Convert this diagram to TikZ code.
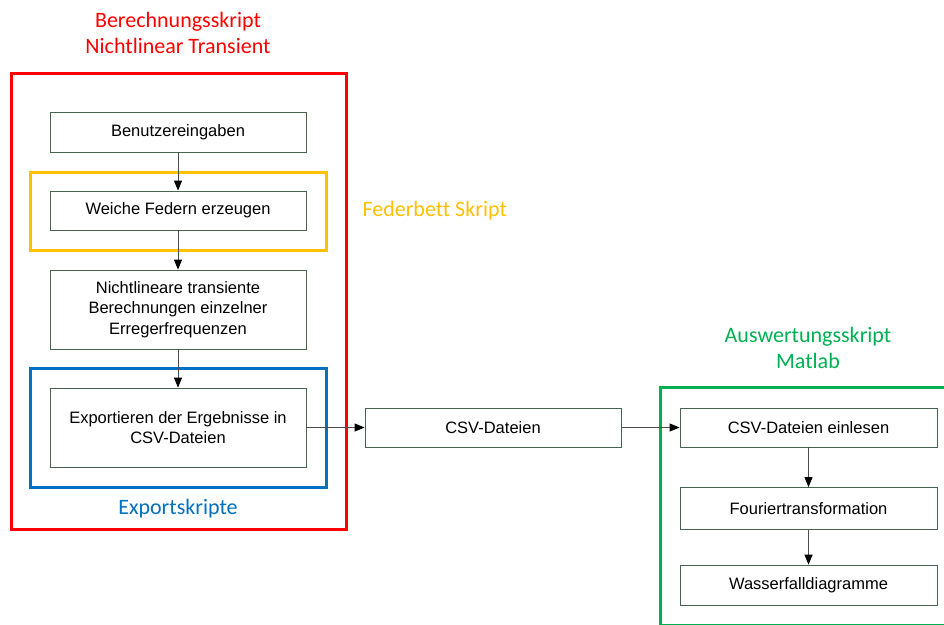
\documentclass[tikz,border=0pt]{standalone}
\usepackage{fontspec}
\setmainfont{Liberation Sans}
\newfontfamily\calibri[Ligatures=NoCommon]{Carlito}
\usetikzlibrary{arrows.meta}
\definecolor{boxline}{RGB}{70,100,80}
\definecolor{offred}{RGB}{255,0,0}
\definecolor{offyellow}{RGB}{255,192,0}
\definecolor{offblue}{RGB}{0,112,192}
\definecolor{offgreen}{RGB}{0,176,80}
\tikzset{
  stepbox/.style  = {draw=boxline,line width=0.8pt,minimum width=256pt,minimum height=40pt,
                     inner sep=0pt,align=center,font=\fontsize{16.5}{20.5}\selectfont},
  frame/.style    = {line width=3pt,inner sep=0pt},
  flowarr/.style  = {-{Triangle[length=10pt,width=8pt,black]},draw=gray!60!black,line width=0.9pt},
  grouplbl/.style = {align=center,font=\calibri\fontsize{22}{26}\selectfont}
}

\begin{document}
\begin{tikzpicture}[x=1pt,y=-1pt]
  \useasboundingbox (0,0) rectangle (944,624);
  \clip (0,0) rectangle (944,624);
  % frames
  \node[frame,draw=offred,minimum width=335pt,minimum height=456pt] (berframe) at (178.5,301) {};
  \node[frame,draw=offyellow,minimum width=296pt,minimum height=78pt] (federframe) at (178,211) {};
  \node[frame,draw=offblue,minimum width=296pt,minimum height=119pt] (exportframe) at (178,427.5) {};
  \node[frame,draw=offgreen,minimum width=290pt,minimum height=238pt] (auswframe) at (805,506) {};
  % labels
  \node[grouplbl,text=offred] (bertitle) at (178,33) {Berechnungsskript\\Nichtlinear Transient};
  \node[grouplbl,text=offyellow,anchor=west] (federlbl) at (359,211) {Federbett Skript};
  \node[grouplbl,text=offblue] (exportlbl) at (178,509) {Exportskripte};
  \node[grouplbl,text=offgreen] (auswtitle) at (808,348) {Auswertungsskript\\Matlab};
  % steps
  \node[stepbox] (benutz) at (178,132) {Benutzereingaben};
  \node[stepbox,minimum height=39pt] (weiche) at (178,210.5) {Weiche Federn erzeugen};
  \node[stepbox,minimum height=79pt] (nichtlin) at (178,309.5)
    {Nichtlineare transiente\\Berechnungen einzelner\\Erregerfrequenzen};
  \node[stepbox,minimum height=79pt] (export) at (178,427.5) {Exportieren der Ergebnisse in\\CSV-Dateien};
  \node[stepbox,minimum height=39pt] (csv) at (493,427.5) {CSV-Dateien};
  \node[stepbox,minimum width=257pt,minimum height=39pt] (einlesen) at (808.5,427.5) {CSV-Dateien einlesen};
  \node[stepbox,minimum width=257pt,minimum height=42pt] (fourier) at (808.5,508.5) {Fouriertransformation};
  \node[stepbox,minimum width=257pt] (wasser) at (808.5,585) {Wasserfalldiagramme};
  % flow
  \draw[flowarr] (benutz) -- (weiche);
  \draw[flowarr] (weiche) -- (nichtlin);
  \draw[flowarr] (nichtlin) -- (export);
  \draw[flowarr] (export) -- (csv);
  \draw[flowarr] (csv) -- (einlesen);
  \draw[flowarr] (einlesen) -- (fourier);
  \draw[flowarr] (fourier) -- (wasser);
\end{tikzpicture}
\end{document}
